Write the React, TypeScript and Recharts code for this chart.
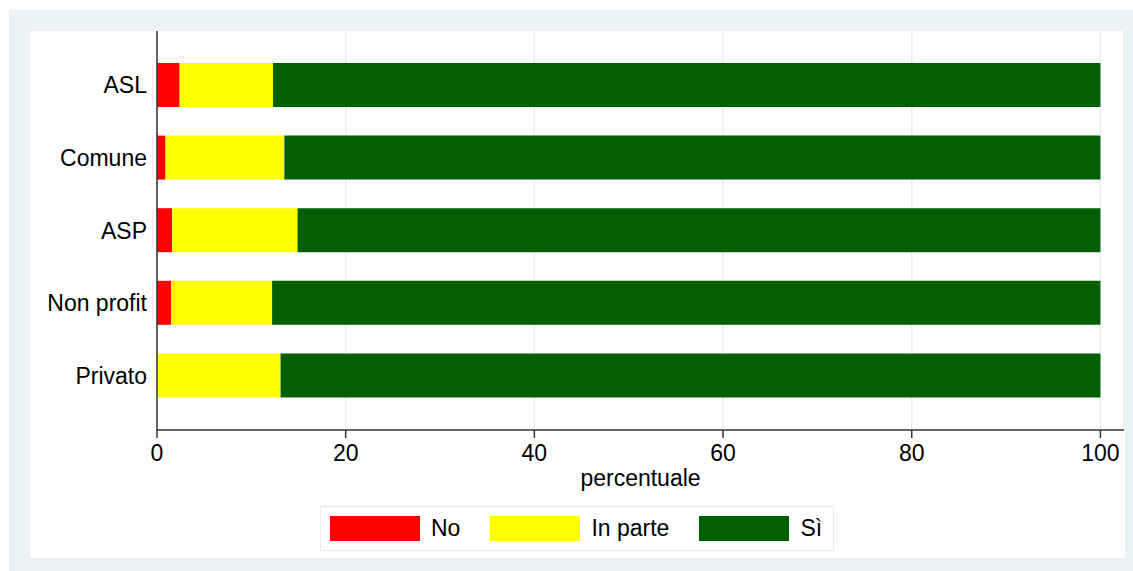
import React from 'react';
import { BarChart, Bar, XAxis, YAxis, CartesianGrid, Legend } from 'recharts';

// percentuali per tipo di ente
const categories = ['ASL', 'Comune', 'ASP', 'Non profit', 'Privato'];
const noValues = [2.4, 0.9, 1.6, 1.5, 0];
const inParteValues = [9.9, 12.6, 13.3, 10.7, 13.1];
const siValues = [87.7, 86.5, 85.1, 87.8, 86.9];
const xTicks = [0, 20, 40, 60, 80, 100];

const series = [
  { key: 'no', name: 'No', color: '#ff0000' },
  { key: 'inParte', name: 'In parte', color: '#ffff00' },
  { key: 'si', name: 'Sì', color: '#005f00' },
];

const data = categories.map((name, i) => ({
  name,
  no: noValues[i],
  inParte: inParteValues[i],
  si: siValues[i],
}));

const FONT = '"Liberation Sans", Arial, Helvetica, sans-serif';
const BG = '#eaf2f3';

const renderLegend = () => (
  <div
    style={{
      boxSizing: 'border-box',
      width: '100%',
      height: '100%',
      background: '#fff',
      border: '1px solid #e4ecee',
      display: 'flex',
      alignItems: 'center',
      paddingLeft: 9,
      fontFamily: FONT,
      fontSize: 23,
      color: '#000',
      whiteSpace: 'nowrap',
    }}
  >
    {series.map((s) => (
      <div key={s.key} style={{ display: 'flex', alignItems: 'center', marginRight: 30, flexShrink: 0 }}>
        <span style={{ display: 'inline-block', width: 90, height: 25, background: s.color, marginRight: 11 }} />
        <span>{s.name}</span>
      </div>
    ))}
  </div>
);

const renderXLabel = (props: any) => {
  const vb = props.viewBox;
  return (
    <text
      x={vb.x + vb.width / 2}
      y={vb.y + 56}
      textAnchor="middle"
      fontFamily={FONT}
      fontSize={23}
      fill="#000"
    >
      percentuale
    </text>
  );
};

export default function App() {
  return (
    <div style={{ position: 'absolute', left: 0, top: 0, width: 1133, height: 571, background: '#fff' }}>
      <div style={{ position: 'absolute', left: 9, top: 10, width: 1124, height: 561, background: BG }} />
      <div style={{ position: 'absolute', left: 30, top: 31, width: 1095, height: 527, background: '#fff' }} />
      <div style={{ position: 'absolute', left: 0, top: 0 }}>
        <BarChart
          width={1133}
          height={571}
          data={data}
          layout="vertical"
          margin={{ top: 31, right: 9, bottom: 111, left: 37 }}
          barSize={44}
        >
          <CartesianGrid horizontal={false} vertical stroke="#e6eef0" strokeWidth={1.5} />
          <XAxis
            type="number"
            domain={[0, 102.5]}
            ticks={xTicks}
            allowDataOverflow
            height={30}
            tickSize={8}
            tickMargin={7}
            axisLine={{ stroke: '#333', strokeWidth: 1.5 }}
            tickLine={{ stroke: '#333', strokeWidth: 1.5 }}
            tick={{ fill: '#000', fontSize: 23, fontFamily: FONT }}
            label={renderXLabel}
          />
          <YAxis
            type="category"
            dataKey="name"
            width={120}
            padding={{ top: 18, bottom: 18 }}
            tickSize={8}
            tickMargin={2}
            tickLine={false}
            axisLine={{ stroke: '#333', strokeWidth: 1.5 }}
            tick={{ fill: '#000', fontSize: 23, fontFamily: FONT }}
          />
          {series.map((s) => (
            <Bar
              key={s.key}
              dataKey={s.key}
              name={s.name}
              stackId="a"
              fill={s.color}
              isAnimationActive={false}
            />
          ))}
          <Legend
            layout="horizontal"
            verticalAlign="middle"
            align="center"
            content={renderLegend}
            wrapperStyle={{ left: 320, top: 506, width: 514, height: 45 }}
          />
        </BarChart>
      </div>
    </div>
  );
}
